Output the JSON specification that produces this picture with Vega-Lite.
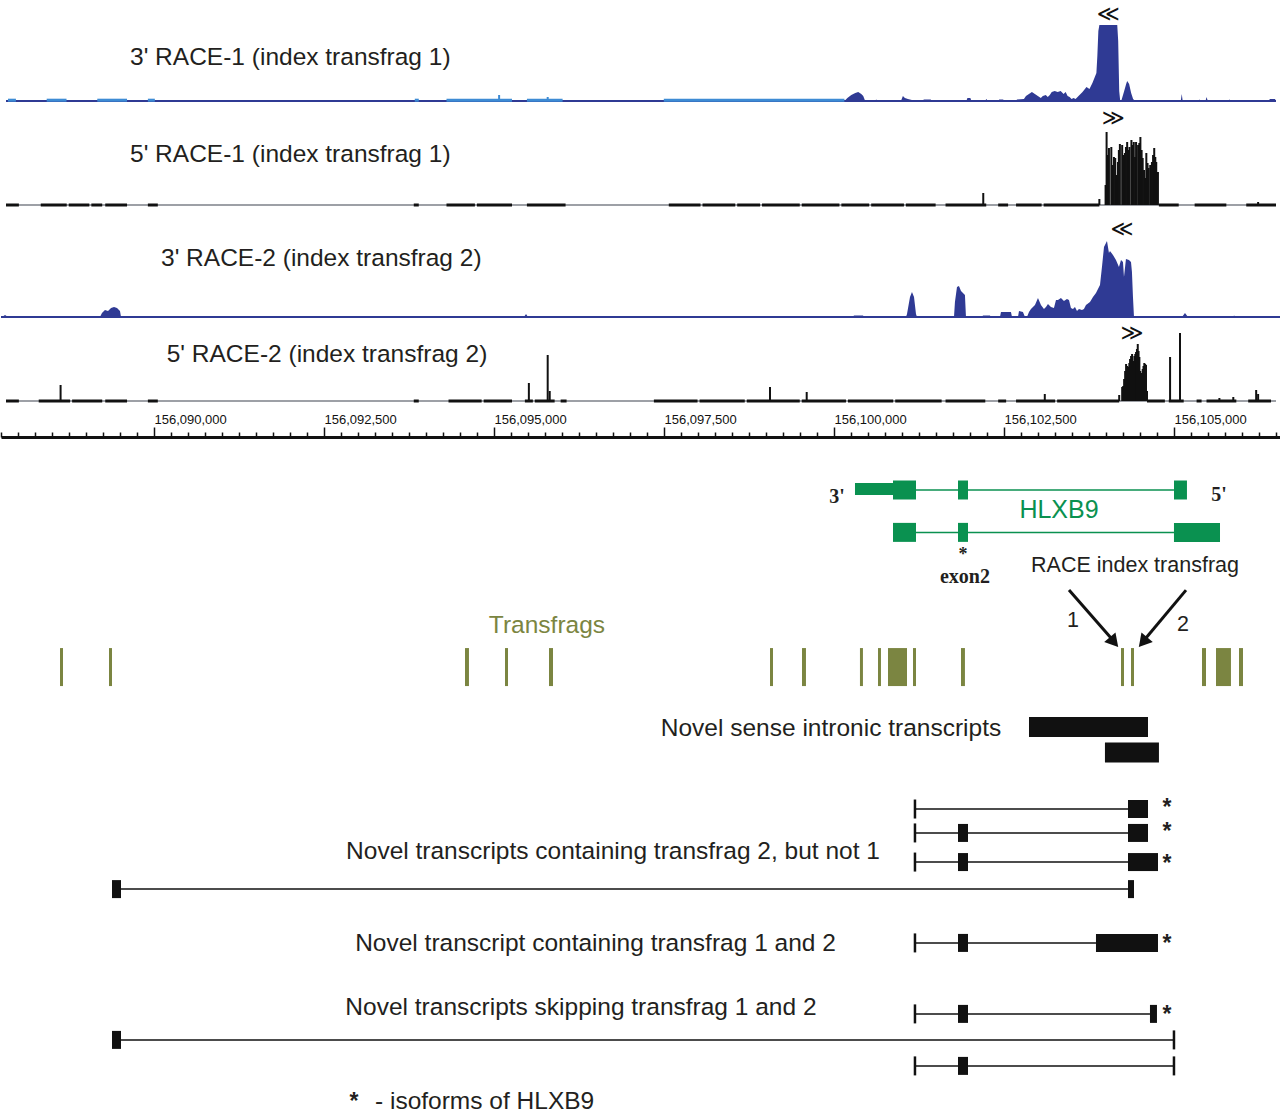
{
  "$schema": "https://vega.github.io/schema/vega-lite/v6.json",
  "background": "white",
  "padding": 0,
  "spacing": 0,
  "bounds": "flush",
  "config": {"view": {"stroke": null}, "concat": {"spacing": 0}},
  "resolve": {"scale": {"x": "independent", "y": "independent"}},
  "vconcat": [
    {
      "width": 1280, "height": 104,
      "encoding": {
        "x": {"field": "pos", "type": "quantitative", "scale": {"domain": [156087750, 156106574], "nice": false, "zero": false}, "axis": null},
        "y": {"field": "h", "type": "quantitative", "stack": null, "scale": {"domain": [-3, 101], "nice": false, "zero": false}, "axis": null}
      },
      "layer": [
        {"data": {"values": [{"pos": 156087750, "end": 156106574, "h": 0}]}, "mark": {"type": "rule", "color": "#2f3a94", "strokeWidth": 2}, "encoding": {"x2": {"field": "end"}}},
        {"data": {"values": [
          {"pos": 156087779, "end": 156087897, "h": 0.8}, {"pos": 156088353, "end": 156088647, "h": 0.8}, {"pos": 156089103, "end": 156089544, "h": 0.8}, {"pos": 156089853, "end": 156089956, "h": 0.8},
          {"pos": 156093809, "end": 156093868, "h": 0.8}, {"pos": 156094279, "end": 156095250, "h": 0.8}, {"pos": 156095471, "end": 156096000, "h": 0.8}, {"pos": 156097500, "end": 156100177, "h": 0.8}
        ]}, "mark": {"type": "rule", "color": "#3d8bd4", "strokeWidth": 3}, "encoding": {"x2": {"field": "end"}}},
        {"data": {"values": [{"pos": 156095059, "h": 6}, {"pos": 156095779, "h": 4}]}, "mark": {"type": "bar", "color": "#3d8bd4", "width": 2}, "encoding": {"y2": {"datum": 0}}},
        {"data": {"values": [
          {"pos":156100177,"h":0},{"pos":156100221,"h":3},{"pos":156100279,"h":6},{"pos":156100338,"h":8},{"pos":156100382,"h":9},{"pos":156100427,"h":7},{"pos":156100456,"h":5},{"pos":156100485,"h":0},
          {"pos":156100632,"h":0},{"pos":156100647,"h":1.5},{"pos":156100676,"h":0},
          {"pos":156101015,"h":0},{"pos":156101044,"h":5},{"pos":156101074,"h":3},{"pos":156101118,"h":2},{"pos":156101177,"h":1},{"pos":156101206,"h":0},
          {"pos":156101338,"h":0},{"pos":156101353,"h":1.5},{"pos":156101456,"h":1.5},{"pos":156101471,"h":0},
          {"pos":156101985,"h":0},{"pos":156102000,"h":3},{"pos":156102044,"h":3},{"pos":156102059,"h":0},
          {"pos":156102265,"h":0},{"pos":156102279,"h":2},{"pos":156102309,"h":0},
          {"pos":156102456,"h":0},{"pos":156102471,"h":1.5},{"pos":156102530,"h":1.5},{"pos":156102544,"h":0},
          {"pos":156102721,"h":0},{"pos":156102735,"h":1.5},{"pos":156102838,"h":2},{"pos":156102868,"h":5},{"pos":156102912,"h":7},{"pos":156102956,"h":9},{"pos":156103000,"h":7},{"pos":156103044,"h":5},{"pos":156103088,"h":3},{"pos":156103118,"h":5},{"pos":156103162,"h":6},{"pos":156103191,"h":4},{"pos":156103221,"h":6},{"pos":156103250,"h":9},{"pos":156103294,"h":10},{"pos":156103338,"h":9},{"pos":156103382,"h":10},{"pos":156103426,"h":7},{"pos":156103456,"h":9},{"pos":156103485,"h":5},{"pos":156103515,"h":4},{"pos":156103544,"h":2},{"pos":156103574,"h":3},{"pos":156103603,"h":2},{"pos":156103647,"h":5},{"pos":156103706,"h":9},{"pos":156103765,"h":14},{"pos":156103809,"h":12},{"pos":156103853,"h":18},{"pos":156103912,"h":28},{"pos":156103926,"h":45},{"pos":156103941,"h":70},{"pos":156103956,"h":76},{"pos":156104221,"h":76},{"pos":156104235,"h":60},{"pos":156104250,"h":10},{"pos":156104265,"h":0},
          {"pos":156104280,"h":0},{"pos":156104324,"h":10},{"pos":156104353,"h":17},{"pos":156104368,"h":20},{"pos":156104397,"h":17},{"pos":156104427,"h":8},{"pos":156104456,"h":2},{"pos":156104486,"h":0},
          {"pos":156105162,"h":0},{"pos":156105177,"h":7},{"pos":156105191,"h":0},
          {"pos":156105427,"h":0},{"pos":156105441,"h":1.5},{"pos":156105471,"h":0},
          {"pos":156105530,"h":0},{"pos":156105544,"h":4},{"pos":156105559,"h":1},{"pos":156105574,"h":0},
          {"pos":156105868,"h":0},{"pos":156105883,"h":1.5},{"pos":156105912,"h":0},
          {"pos":156106456,"h":0},{"pos":156106486,"h":2},{"pos":156106559,"h":2},{"pos":156106574,"h":0}
        ]}, "mark": {"type": "area", "color": "#2f3a94", "interpolate": "linear"}},
        {"data": {"values": [{"pos": 156089588, "h": 43, "label": "3' RACE-1 (index transfrag 1)"}]}, "mark": {"type": "text", "align": "left", "baseline": "middle", "font": "Liberation Sans", "fontSize": 24.5, "color": "#231f20"}, "encoding": {"text": {"field": "label"}}},
        {"data": {"values": [{"pos": 156104088, "h": 87, "label": "≪"}]}, "mark": {"type": "text", "align": "center", "baseline": "middle", "font": "DejaVu Sans", "fontSize": 22, "color": "#111"}, "encoding": {"text": {"field": "label"}}}
      ]
    },
    {
      "width": 1280, "height": 104,
      "encoding": {
        "x": {"field": "pos", "type": "quantitative", "scale": {"domain": [156087750, 156106574], "nice": false, "zero": false}, "axis": null},
        "y": {"field": "h", "type": "quantitative", "stack": null, "scale": {"domain": [-3, 101], "nice": false, "zero": false}, "axis": null}
      },
      "layer": [
        {"data": {"values": [{"pos": 156087750, "end": 156106574, "h": 0}]}, "mark": {"type": "rule", "color": "#9da0a6", "strokeWidth": 2}, "encoding": {"x2": {"field": "end"}}},
        {"data": {"values": [
          {"pos":156087750,"end":156087941,"h":0},{"pos":156088265,"end":156088650,"h":0},{"pos":156088680,"end":156088985,"h":0},{"pos":156089015,"end":156089176,"h":0},{"pos":156089221,"end":156089544,"h":0},{"pos":156089853,"end":156090000,"h":0},{"pos":156093794,"end":156093868,"h":0},{"pos":156094279,"end":156094700,"h":0},{"pos":156094730,"end":156095250,"h":0},{"pos":156095471,"end":156096044,"h":0},{"pos":156097574,"end":156098044,"h":0},{"pos":156098074,"end":156098559,"h":0},{"pos":156098588,"end":156098927,"h":0},{"pos":156098956,"end":156099515,"h":0},{"pos":156099545,"end":156100103,"h":0},{"pos":156100132,"end":156100544,"h":0},{"pos":156100574,"end":156101059,"h":0},{"pos":156101088,"end":156101529,"h":0},{"pos":156101676,"end":156102279,"h":0},{"pos":156102456,"end":156102603,"h":0},{"pos":156102721,"end":156103100,"h":0},{"pos":156103130,"end":156103956,"h":0},{"pos":156104838,"end":156105132,"h":0},{"pos":156105368,"end":156105838,"h":0},{"pos":156106133,"end":156106574,"h":0}
        ]}, "mark": {"type": "rule", "color": "#111", "strokeWidth": 3}, "encoding": {"x2": {"field": "end"}}},
        {"data": {"values": [
          {"pos":156102235,"h":12},{"pos":156103956,"h":6},{"pos":156106309,"h":3},
          {"pos":156104048,"h":20},{"pos":156104063,"h":73},{"pos":156104080,"h":50},{"pos":156104098,"h":57},{"pos":156104133,"h":58},{"pos":156104150,"h":40},{"pos":156104172,"h":48},{"pos":156104191,"h":47},{"pos":156104212,"h":30},{"pos":156104231,"h":43},{"pos":156104245,"h":55},{"pos":156104260,"h":61},{"pos":156104294,"h":60},{"pos":156104314,"h":50},{"pos":156104334,"h":52},{"pos":156104350,"h":58},{"pos":156104368,"h":63},{"pos":156104385,"h":55},{"pos":156104402,"h":58},{"pos":156104431,"h":65},{"pos":156104450,"h":60},{"pos":156104466,"h":63},{"pos":156104485,"h":48},{"pos":156104500,"h":63},{"pos":156104530,"h":60},{"pos":156104548,"h":62},{"pos":156104564,"h":68},{"pos":156104582,"h":55},{"pos":156104598,"h":47},{"pos":156104618,"h":35},{"pos":156104637,"h":27},{"pos":156104652,"h":52},{"pos":156104670,"h":42},{"pos":156104686,"h":37},{"pos":156104710,"h":40},{"pos":156104735,"h":43},{"pos":156104752,"h":50},{"pos":156104769,"h":57},{"pos":156104785,"h":48},{"pos":156104799,"h":43},{"pos":156104824,"h":33}
        ]}, "mark": {"type": "bar", "color": "#111", "width": 2}, "encoding": {"y2": {"datum": 0}}},
        {"data": {"values": [{"pos": 156089588, "h": 50, "label": "5' RACE-1 (index transfrag 1)"}]}, "mark": {"type": "text", "align": "left", "baseline": "middle", "font": "Liberation Sans", "fontSize": 24.5, "color": "#231f20"}, "encoding": {"text": {"field": "label"}}},
        {"data": {"values": [{"pos": 156104162, "h": 87, "label": "≫"}]}, "mark": {"type": "text", "align": "center", "baseline": "middle", "font": "DejaVu Sans", "fontSize": 22, "color": "#111"}, "encoding": {"text": {"field": "label"}}}
      ]
    },
    {
      "width": 1280, "height": 112,
      "encoding": {
        "x": {"field": "pos", "type": "quantitative", "scale": {"domain": [156087750, 156106574], "nice": false, "zero": false}, "axis": null},
        "y": {"field": "h", "type": "quantitative", "stack": null, "scale": {"domain": [-3, 109], "nice": false, "zero": false}, "axis": null}
      },
      "layer": [
        {"data": {"values": [{"pos": 156087750, "end": 156106574, "h": 0}]}, "mark": {"type": "rule", "color": "#2f3a94", "strokeWidth": 2}, "encoding": {"x2": {"field": "end"}}},
        {"data": {"values": [
          {"pos":156087765,"h":0},{"pos":156087809,"h":2},{"pos":156087853,"h":0},
          {"pos":156089206,"h":0},{"pos":156089235,"h":4},{"pos":156089279,"h":7},{"pos":156089324,"h":6},{"pos":156089368,"h":9},{"pos":156089412,"h":10},{"pos":156089456,"h":9},{"pos":156089500,"h":6},{"pos":156089515,"h":0},
          {"pos":156095441,"h":0},{"pos":156095471,"h":3},{"pos":156095500,"h":0},
          {"pos":156100279,"h":0},{"pos":156100294,"h":1.5},{"pos":156100427,"h":1.5},{"pos":156100441,"h":0},
          {"pos":156101059,"h":0},{"pos":156101074,"h":3},{"pos":156101118,"h":20},{"pos":156101147,"h":25},{"pos":156101177,"h":20},{"pos":156101206,"h":3},{"pos":156101221,"h":0},
          {"pos":156101765,"h":0},{"pos":156101779,"h":15},{"pos":156101809,"h":30},{"pos":156101838,"h":31},{"pos":156101868,"h":26},{"pos":156101897,"h":24},{"pos":156101926,"h":22},{"pos":156101941,"h":0},
          {"pos":156102177,"h":0},{"pos":156102191,"h":1.5},{"pos":156102294,"h":1.5},{"pos":156102309,"h":0},
          {"pos":156102441,"h":0},{"pos":156102456,"h":5},{"pos":156102603,"h":5},{"pos":156102618,"h":0},
          {"pos":156102706,"h":0},{"pos":156102721,"h":6},{"pos":156102779,"h":5},{"pos":156102809,"h":0},
          {"pos":156102838,"h":0},{"pos":156102868,"h":5},{"pos":156102897,"h":8},{"pos":156102956,"h":12},{"pos":156103000,"h":19},{"pos":156103044,"h":12},{"pos":156103088,"h":8},{"pos":156103118,"h":10},{"pos":156103147,"h":13},{"pos":156103191,"h":10},{"pos":156103235,"h":9},{"pos":156103265,"h":17},{"pos":156103294,"h":17},{"pos":156103338,"h":19},{"pos":156103382,"h":16},{"pos":156103426,"h":18},{"pos":156103456,"h":17},{"pos":156103485,"h":9},{"pos":156103515,"h":8},{"pos":156103544,"h":10},{"pos":156103574,"h":6},{"pos":156103603,"h":8},{"pos":156103647,"h":7},{"pos":156103676,"h":8},{"pos":156103706,"h":12},{"pos":156103765,"h":15},{"pos":156103809,"h":20},{"pos":156103853,"h":24},{"pos":156103912,"h":32},{"pos":156103941,"h":50},{"pos":156103971,"h":70},{"pos":156104015,"h":76},{"pos":156104044,"h":64},{"pos":156104059,"h":66},{"pos":156104103,"h":62},{"pos":156104147,"h":57},{"pos":156104191,"h":50},{"pos":156104221,"h":57},{"pos":156104250,"h":55},{"pos":156104265,"h":40},{"pos":156104294,"h":58},{"pos":156104338,"h":57},{"pos":156104368,"h":55},{"pos":156104382,"h":45},{"pos":156104397,"h":20},{"pos":156104412,"h":0},
          {"pos":156105118,"h":0},{"pos":156105162,"h":4},{"pos":156105206,"h":0},
          {"pos":156105868,"h":0},{"pos":156105883,"h":1.5},{"pos":156105912,"h":0}
        ]}, "mark": {"type": "area", "color": "#2f3a94", "interpolate": "linear"}},
        {"data": {"values": [{"pos": 156090103, "h": 58, "label": "3' RACE-2 (index transfrag 2)"}]}, "mark": {"type": "text", "align": "left", "baseline": "middle", "font": "Liberation Sans", "fontSize": 24.5, "color": "#231f20"}, "encoding": {"text": {"field": "label"}}},
        {"data": {"values": [{"pos": 156104235, "h": 88, "label": "≪"}]}, "mark": {"type": "text", "align": "center", "baseline": "middle", "font": "DejaVu Sans", "fontSize": 22, "color": "#111"}, "encoding": {"text": {"field": "label"}}}
      ]
    },
    {
      "width": 1280, "height": 117,
      "encoding": {
        "x": {"field": "pos", "type": "quantitative", "scale": {"domain": [156087750, 156106574], "nice": false, "zero": false}, "axis": null},
        "y": {"field": "h", "type": "quantitative", "stack": null, "scale": {"domain": [-36, 81], "nice": false, "zero": false}, "axis": null}
      },
      "layer": [
        {"data": {"values": [{"pos": 156087750, "end": 156106574, "h": 0}]}, "mark": {"type": "rule", "color": "#9da0a6", "strokeWidth": 2}, "encoding": {"x2": {"field": "end"}}},
        {"data": {"values": [
          {"pos":156087750,"end":156087941,"h":0},{"pos":156088235,"end":156088700,"h":0},{"pos":156088730,"end":156089176,"h":0},{"pos":156089221,"end":156089544,"h":0},{"pos":156089853,"end":156090000,"h":0},{"pos":156093794,"end":156093868,"h":0},{"pos":156094309,"end":156094800,"h":0},{"pos":156094830,"end":156095250,"h":0},{"pos":156095441,"end":156095559,"h":0},{"pos":156095588,"end":156095882,"h":0},{"pos":156095971,"end":156096059,"h":0},{"pos":156097353,"end":156098000,"h":0},{"pos":156098030,"end":156098700,"h":0},{"pos":156098730,"end":156099515,"h":0},{"pos":156099545,"end":156100200,"h":0},{"pos":156100230,"end":156100900,"h":0},{"pos":156100930,"end":156101618,"h":0},{"pos":156101676,"end":156102265,"h":0},{"pos":156102456,"end":156102574,"h":0},{"pos":156102721,"end":156103300,"h":0},{"pos":156103330,"end":156104250,"h":0},{"pos":156104662,"end":156104927,"h":0},{"pos":156104985,"end":156105206,"h":0},{"pos":156105397,"end":156105471,"h":0},{"pos":156105544,"end":156105986,"h":0},{"pos":156106162,"end":156106500,"h":0}
        ]}, "mark": {"type": "rule", "color": "#111", "strokeWidth": 3}, "encoding": {"x2": {"field": "end"}}},
        {"data": {"values": [
          {"pos":156088559,"h":16},{"pos":156095500,"h":18},{"pos":156095779,"h":46},{"pos":156095809,"h":10},{"pos":156099074,"h":14},{"pos":156099618,"h":9},{"pos":156103147,"h":7},{"pos":156104250,"h":6},
          {"pos":156104294,"h":14},{"pos":156104309,"h":15},{"pos":156104323,"h":22},{"pos":156104338,"h":30},{"pos":156104352,"h":37},{"pos":156104370,"h":35},{"pos":156104387,"h":34},{"pos":156104400,"h":38},{"pos":156104411,"h":42},{"pos":156104426,"h":45},{"pos":156104441,"h":47},{"pos":156104456,"h":40},{"pos":156104475,"h":45},{"pos":156104488,"h":47},{"pos":156104500,"h":49},{"pos":156104513,"h":52},{"pos":156104525,"h":57},{"pos":156104537,"h":50},{"pos":156104549,"h":44},{"pos":156104562,"h":30},{"pos":156104574,"h":24},{"pos":156104586,"h":28},{"pos":156104598,"h":32},{"pos":156104610,"h":35},{"pos":156104622,"h":38},{"pos":156104635,"h":37},{"pos":156104647,"h":36},{"pos":156104662,"h":10},
          {"pos":156105004,"h":44},{"pos":156105151,"h":68},{"pos":156105735,"h":3},{"pos":156105941,"h":4},{"pos":156106280,"h":11},{"pos":156106309,"h":7}
        ]}, "mark": {"type": "bar", "color": "#111", "width": 2}, "encoding": {"y2": {"datum": 0}}},
        {"data": {"values": [{"pos": 156090132, "h": 46, "label": "5' RACE-2 (index transfrag 2)"}]}, "mark": {"type": "text", "align": "left", "baseline": "middle", "font": "Liberation Sans", "fontSize": 24.5, "color": "#231f20"}, "encoding": {"text": {"field": "label"}}},
        {"data": {"values": [{"pos": 156104441, "h": 68, "label": "≫"}]}, "mark": {"type": "text", "align": "center", "baseline": "middle", "font": "DejaVu Sans", "fontSize": 22, "color": "#111"}, "encoding": {"text": {"field": "label"}}}
      ]
    },
    {
      "width": 1280, "height": 677,
      "encoding": {
        "x": {"field": "start", "type": "quantitative", "scale": {"domain": [156087750, 156106574], "nice": false, "zero": false},
          "axis": {
            "orient": "top", "title": null, "grid": false,
            "values": [156087750,156088000,156088250,156088500,156088750,156089000,156089250,156089500,156089750,156090000,156090250,156090500,156090750,156091000,156091250,156091500,156091750,156092000,156092250,156092500,156092750,156093000,156093250,156093500,156093750,156094000,156094250,156094500,156094750,156095000,156095250,156095500,156095750,156096000,156096250,156096500,156096750,156097000,156097250,156097500,156097750,156098000,156098250,156098500,156098750,156099000,156099250,156099500,156099750,156100000,156100250,156100500,156100750,156101000,156101250,156101500,156101750,156102000,156102250,156102500,156102750,156103000,156103250,156103500,156103750,156104000,156104250,156104500,156104750,156105000,156105250,156105500,156105750,156106000,156106250,156106500],
            "labelExpr": "datum.value % 2500 === 0 ? format(datum.value, ',') : ''",
            "tickSize": {"condition": {"test": "datum.value % 2500 === 0", "value": 10}, "value": 5},
            "tickWidth": 1.5, "tickColor": "#111", "domainColor": "#111", "domainWidth": 3,
            "labelFont": "Liberation Sans", "labelFontSize": 13, "labelColor": "#111",
            "labelAlign": "left", "labelBaseline": "bottom", "labelPadding": 1, "labelOverlap": false, "labelFlush": false
          }
        },
        "y": {"field": "lane", "type": "quantitative", "scale": {"domain": [-0.0385, 26], "nice": false, "zero": false, "reverse": true}, "axis": null}
      },
      "layer": [
        {"data": {"values": [{"start":156101206,"end":156105000,"lane":2.0},{"start":156101206,"end":156105000,"lane":3.63}]}, "mark": {"type": "rule", "color": "#0a9150", "strokeWidth": 1.5}, "encoding": {"x2": {"field": "end"}}},
        {"data": {"values": [{"start":156100309,"end":156100868,"lane":1.96}]}, "mark": {"type": "rule", "color": "#0a9150", "strokeWidth": 12}, "encoding": {"x2": {"field": "end"}}},
        {"data": {"values": [
          {"start":156100868,"end":156101206,"lane":2.0},{"start":156101824,"end":156101971,"lane":2.0},{"start":156105000,"end":156105191,"lane":2.0},
          {"start":156100868,"end":156101206,"lane":3.63},{"start":156101824,"end":156101971,"lane":3.63},{"start":156105000,"end":156105677,"lane":3.63}
        ]}, "mark": {"type": "rule", "color": "#0a9150", "strokeWidth": 19}, "encoding": {"x2": {"field": "end"}}},
        {"data": {"values": [{"start":156103309,"lane":2.77,"label":"HLXB9"}]}, "mark": {"type": "text", "align": "center", "baseline": "middle", "font": "Liberation Sans", "fontSize": 25, "color": "#0a9150"}, "encoding": {"text": {"field": "label"}}},
        {"data": {"values": [{"start":156100044,"lane":2.27,"label":"3'"},{"start":156105662,"lane":2.19,"label":"5'"},{"start":156101926,"lane":5.35,"label":"exon2"}]}, "mark": {"type": "text", "align": "center", "baseline": "middle", "font": "Liberation Serif", "fontWeight": "bold", "fontSize": 20, "color": "#231f20"}, "encoding": {"text": {"field": "label"}}},
        {"data": {"values": [{"start":156101897,"lane":4.5,"label":"*"}]}, "mark": {"type": "text", "align": "center", "baseline": "middle", "font": "Liberation Serif", "fontWeight": "bold", "fontSize": 18, "color": "#231f20"}, "encoding": {"text": {"field": "label"}}},
        {"data": {"values": [
          {"start":156088618,"end":156088662,"lane":8.81},{"start":156089338,"end":156089382,"lane":8.81},{"start":156094574,"end":156094632,"lane":8.81},{"start":156095162,"end":156095206,"lane":8.81},{"start":156095809,"end":156095868,"lane":8.81},{"start":156099059,"end":156099103,"lane":8.81},{"start":156099530,"end":156099588,"lane":8.81},{"start":156100382,"end":156100426,"lane":8.81},{"start":156100647,"end":156100691,"lane":8.81},{"start":156100794,"end":156101074,"lane":8.81},{"start":156101162,"end":156101206,"lane":8.81},{"start":156101868,"end":156101926,"lane":8.81},{"start":156104221,"end":156104265,"lane":8.81},{"start":156104368,"end":156104412,"lane":8.81},{"start":156105412,"end":156105471,"lane":8.81},{"start":156105618,"end":156105838,"lane":8.81},{"start":156105956,"end":156106015,"lane":8.81}
        ]}, "mark": {"type": "rule", "color": "#7b8541", "strokeWidth": 38}, "encoding": {"x2": {"field": "end"}}},
        {"data": {"values": [{"start":156095779,"lane":7.23,"label":"Transfrags"}]}, "mark": {"type": "text", "align": "center", "baseline": "middle", "font": "Liberation Sans", "fontSize": 24.5, "color": "#7b8541"}, "encoding": {"text": {"field": "label"}}},
        {"data": {"values": [{"start":156103456,"end":156104074,"lane":5.85,"lane2":7.69},{"start":156105177,"end":156104588,"lane":5.85,"lane2":7.69}]}, "mark": {"type": "rule", "color": "#111", "strokeWidth": 3}, "encoding": {"x2": {"field": "end"}, "y2": {"field": "lane2"}}},
        {"data": {"values": [{"start":156104118,"lane":7.85}]}, "mark": {"type": "point", "shape": "triangle-up", "filled": true, "color": "#111", "opacity": 1, "size": 220, "angle": 139.5}},
        {"data": {"values": [{"start":156104544,"lane":7.85}]}, "mark": {"type": "point", "shape": "triangle-up", "filled": true, "color": "#111", "opacity": 1, "size": 220, "angle": 220.5}},
        {"data": {"values": [{"start":156104427,"lane":4.92,"label":"RACE index transfrag"},{"start":156103515,"lane":7.04,"label":"1"},{"start":156105132,"lane":7.19,"label":"2"}]}, "mark": {"type": "text", "align": "center", "baseline": "middle", "font": "Liberation Sans", "fontSize": 21.5, "color": "#231f20"}, "encoding": {"text": {"field": "label"}}},
        {"data": {"values": [{"start":156102868,"end":156104618,"lane":11.12},{"start":156103985,"end":156104779,"lane":12.1}]}, "mark": {"type": "rule", "color": "#111", "strokeWidth": 20}, "encoding": {"x2": {"field": "end"}}},
        {"data": {"values": [
          {"start":156101191,"end":156104324,"lane":14.27},{"start":156101191,"end":156104324,"lane":15.19},{"start":156101191,"end":156104324,"lane":16.31},{"start":156089515,"end":156104324,"lane":17.35},
          {"start":156101191,"end":156103853,"lane":19.42},{"start":156101191,"end":156104647,"lane":22.15},{"start":156089515,"end":156105000,"lane":23.15},{"start":156101191,"end":156105000,"lane":24.15}
        ]}, "mark": {"type": "rule", "color": "#111", "strokeWidth": 1.5}, "encoding": {"x2": {"field": "end"}}},
        {"data": {"values": [
          {"start":156104324,"end":156104618,"lane":14.27},
          {"start":156101824,"end":156101971,"lane":15.19},{"start":156104324,"end":156104618,"lane":15.19},
          {"start":156101824,"end":156101971,"lane":16.31},{"start":156104324,"end":156104765,"lane":16.31},
          {"start":156089382,"end":156089515,"lane":17.35},{"start":156104324,"end":156104412,"lane":17.35},
          {"start":156101824,"end":156101971,"lane":19.42},{"start":156103853,"end":156104765,"lane":19.42},
          {"start":156101824,"end":156101971,"lane":22.15},{"start":156104647,"end":156104750,"lane":22.15},
          {"start":156089382,"end":156089515,"lane":23.15},
          {"start":156101824,"end":156101971,"lane":24.15}
        ]}, "mark": {"type": "rule", "color": "#111", "strokeWidth": 18}, "encoding": {"x2": {"field": "end"}}},
        {"data": {"values": [
          {"start":156101191,"lane":14.27},{"start":156101191,"lane":15.19},{"start":156101191,"lane":16.31},{"start":156101191,"lane":19.42},{"start":156101191,"lane":22.15},{"start":156101191,"lane":24.15},{"start":156105000,"lane":23.15},{"start":156105000,"lane":24.15}
        ]}, "mark": {"type": "tick", "orient": "vertical", "color": "#111", "size": 19, "thickness": 2.5, "opacity": 1}},
        {"data": {"values": [
          {"start":156099956,"lane":11.19,"label":"Novel sense intronic transcripts"},
          {"start":156096750,"lane":15.92,"label":"Novel transcripts containing transfrag 2, but not 1"},
          {"start":156096493,"lane":19.46,"label":"Novel transcript containing transfrag 1 and 2"},
          {"start":156096279,"lane":21.92,"label":"Novel transcripts skipping transfrag 1 and 2"}
        ]}, "mark": {"type": "text", "align": "center", "baseline": "middle", "font": "Liberation Sans", "fontSize": 24.5, "color": "#231f20"}, "encoding": {"text": {"field": "label"}}},
        {"data": {"values": [{"start":156093250,"lane":25.52,"label":"- isoforms of HLXB9"}]}, "mark": {"type": "text", "align": "left", "baseline": "middle", "font": "Liberation Sans", "fontSize": 24.5, "color": "#231f20"}, "encoding": {"text": {"field": "label"}}},
        {"data": {"values": [
          {"start":156104897,"lane":14.23,"label":"*"},{"start":156104897,"lane":15.15,"label":"*"},{"start":156104897,"lane":16.38,"label":"*"},{"start":156104897,"lane":19.46,"label":"*"},{"start":156104897,"lane":22.19,"label":"*"},
          {"start":156092941,"lane":25.52,"label":"*"}
        ]}, "mark": {"type": "text", "align": "center", "baseline": "middle", "font": "Liberation Sans", "fontWeight": "bold", "fontSize": 23, "color": "#231f20"}, "encoding": {"text": {"field": "label"}}}
      ]
    }
  ]
}
